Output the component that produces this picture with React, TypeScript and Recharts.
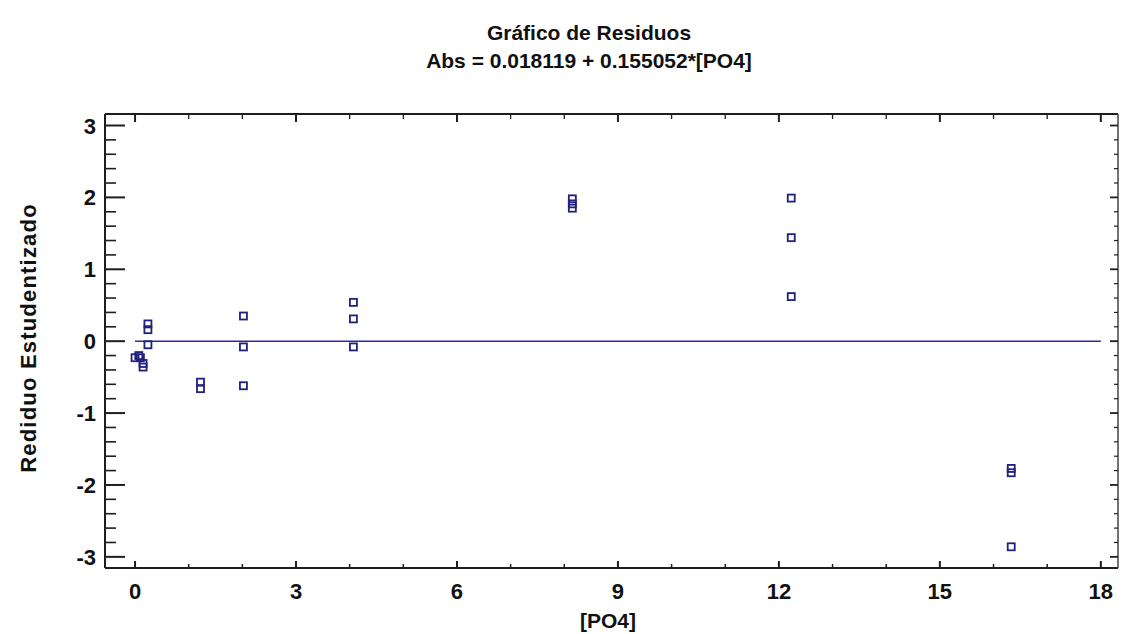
import React from 'react';
import { ScatterChart, Scatter, XAxis, YAxis, ReferenceLine } from 'recharts';

const poValues = [0, 0.07, 0.1, 0.15, 0.15, 0.24, 0.24, 0.24, 1.22, 1.22, 2.02, 2.02, 2.02, 4.07, 4.07, 4.07, 8.15, 8.15, 8.15, 12.23, 12.23, 12.23, 16.33, 16.33, 16.33];
const residuals = [-0.23, -0.2, -0.23, -0.31, -0.36, 0.24, 0.16, -0.05, -0.57, -0.66, 0.35, -0.08, -0.62, 0.54, 0.31, -0.08, 1.98, 1.91, 1.85, 1.99, 1.44, 0.62, -1.77, -1.83, -2.86];

const xMajorTicks = [0, 3, 6, 9, 12, 15, 18];
const xAllTicks = [0, 1, 2, 3, 4, 5, 6, 7, 8, 9, 10, 11, 12, 13, 14, 15, 16, 17, 18];
const yMajorTicks = [-3, -2, -1, 0, 1, 2, 3];
const yAllTicks = Array.from({ length: 31 }, (_, i) => Math.round((-3 + i * 0.2) * 10) / 10);

const titleLine1 = 'Gráfico de Residuos';
const titleLine2 = 'Abs = 0.018119 + 0.155052*[PO4]';
const xLabel = '[PO4]';
const yLabel = 'Rediduo Estudentizado';

const data = poValues.map((x, i) => ({ x, y: residuals[i] }));

const FONT = "'Liberation Sans', Arial, sans-serif";
const AXIS = '#1e1e1e';
const MARK = '#20207f';
const LINE = '#2a2a9e';

const isMajor = (v: number, majors: number[]) => majors.some((m) => Math.abs(m - v) < 1e-6);

const BottomTick = (props: any) => {
  const { x, y, payload } = props;
  const major = isMajor(payload.value, xMajorTicks);
  return (
    <g>
      <line x1={x} x2={x} y1={y} y2={y - (major ? 7 : 4)} stroke={AXIS} strokeWidth={major ? 2 : 1.5} />
      {major && (
        <text x={x} y={y + 31} textAnchor="middle" fontFamily={FONT} fontWeight="bold" fontSize={22} fill="#111">
          {payload.value}
        </text>
      )}
    </g>
  );
};

const TopTick = (props: any) => {
  const { x, y, payload } = props;
  const major = isMajor(payload.value, xMajorTicks);
  return <line x1={x} x2={x} y1={y} y2={y + (major ? 8 : 5)} stroke={AXIS} strokeWidth={major ? 2 : 1.3} />;
};

const LeftTick = (props: any) => {
  const { x, y, payload } = props;
  const major = isMajor(payload.value, yMajorTicks);
  return (
    <g>
      <line x1={x} x2={x + (major ? 20 : 11)} y1={y} y2={y} stroke={AXIS} strokeWidth={major ? 2 : 1.6} />
      {major && (
        <text x={x - 9} y={y + 8} textAnchor="end" fontFamily={FONT} fontWeight="bold" fontSize={22} fill="#111">
          {payload.value}
        </text>
      )}
    </g>
  );
};

const RightTick = (props: any) => {
  const { x, y, payload } = props;
  const major = isMajor(payload.value, yMajorTicks);
  return <line x1={x} x2={x - (major ? 8 : 4)} y1={y} y2={y} stroke={AXIS} strokeWidth={major ? 1.8 : 1.2} />;
};

const SquareMark = (props: any) => {
  const { cx, cy } = props;
  if (cx == null || cy == null) return null;
  return <rect x={cx - 3.5} y={cy - 3.5} width={7} height={7} fill="none" stroke={MARK} strokeWidth={1.8} />;
};

const xDomain: [number, number] = [-0.56, 18.32];
const yDomain: [number, number] = [-3.155, 3.16];

export default function App() {
  return (
    <div style={{ position: 'relative', width: 1122, height: 634, background: '#fff' }}>
      <style>{`body{margin:0;background:#fff}`}</style>
      <ScatterChart width={1122} height={634} margin={{ top: 100, right: 0, bottom: 6, left: 5 }}>
        <XAxis
          xAxisId="bottom"
          type="number"
          dataKey="x"
          orientation="bottom"
          domain={xDomain}
          allowDataOverflow
          ticks={xAllTicks}
          interval={0}
          height={60}
          tickSize={0}
          tickMargin={0}
          tickLine={false}
          axisLine={{ stroke: AXIS, strokeWidth: 2 }}
          tick={<BottomTick />}
        />
        <XAxis
          xAxisId="top"
          type="number"
          dataKey="x"
          orientation="top"
          domain={xDomain}
          allowDataOverflow
          ticks={xAllTicks}
          interval={0}
          height={14}
          tickSize={0}
          tickMargin={0}
          tickLine={false}
          axisLine={{ stroke: AXIS, strokeWidth: 2 }}
          tick={<TopTick />}
        />
        <YAxis
          yAxisId="left"
          type="number"
          dataKey="y"
          orientation="left"
          domain={yDomain}
          allowDataOverflow
          ticks={yAllTicks}
          interval={0}
          width={100}
          tickSize={0}
          tickMargin={0}
          tickLine={false}
          axisLine={{ stroke: AXIS, strokeWidth: 2 }}
          tick={<LeftTick />}
        />
        <YAxis
          yAxisId="right"
          type="number"
          dataKey="y"
          orientation="right"
          domain={yDomain}
          allowDataOverflow
          ticks={yAllTicks}
          interval={0}
          width={4}
          tickSize={0}
          tickMargin={0}
          tickLine={false}
          axisLine={{ stroke: '#444', strokeWidth: 1.5 }}
          tick={<RightTick />}
        />
        <ReferenceLine
          xAxisId="bottom"
          yAxisId="left"
          segment={[{ x: 0, y: 0 }, { x: 18, y: 0 }]}
          stroke={LINE}
          strokeWidth={1.6}
          ifOverflow="visible"
        />
        <Scatter
          xAxisId="bottom"
          yAxisId="left"
          data={data}
          shape={<SquareMark />}
          isAnimationActive={false}
        />
      </ScatterChart>
      <svg
        width={1122}
        height={634}
        style={{ position: 'absolute', left: 0, top: 0, pointerEvents: 'none' }}
      >
        <text x={589} y={40} textAnchor="middle" fontFamily={FONT} fontWeight="bold" fontSize={21} fill="#111">
          {titleLine1}
        </text>
        <text x={589} y={68} textAnchor="middle" fontFamily={FONT} fontWeight="bold" fontSize={21} fill="#111">
          {titleLine2}
        </text>
        <text x={608} y={628} textAnchor="middle" fontFamily={FONT} fontWeight="bold" fontSize={21} fill="#111">
          {xLabel}
        </text>
        <text
          x={0}
          y={0}
          transform="translate(36,338) rotate(-90)"
          textAnchor="middle"
          fontFamily={FONT}
          fontWeight="bold"
          fontSize={22}
          letterSpacing={1.2}
          fill="#111"
        >
          {yLabel}
        </text>
      </svg>
    </div>
  );
}
